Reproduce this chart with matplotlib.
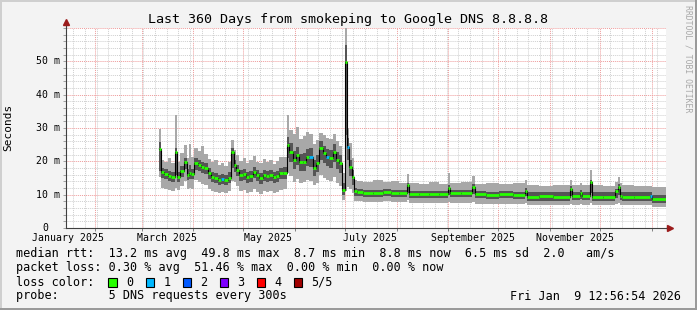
import matplotlib
matplotlib.use('Agg')
import matplotlib.pyplot as plt
import matplotlib.dates as mdates
from matplotlib.patches import Rectangle
from matplotlib.ticker import MultipleLocator
from datetime import datetime, timedelta

plt.rcParams['font.family'] = 'DejaVu Sans Mono'

# time window of the graph
start = datetime(2025, 1, 14, 12, 56, 54)
end = datetime(2026, 1, 9, 12, 56, 54)

# start of each step, in days after 'start'
day = [56.0, 57.0, 59.0, 61.0, 63.0, 65.5, 66.5, 68.5, 70.5, 72.5,
       73.5, 75.0, 77.0, 79.0, 81.0, 83.0, 85.0, 87.0, 89.0, 91.0,
       93.0, 95.0, 97.0, 99.0, 100.5, 102.0, 104.0, 106.0, 108.0, 110.0,
       112.0, 114.0, 116.0, 118.0, 120.0, 122.0, 124.0, 126.0, 128.0, 130.0,
       132.5, 134.0, 136.0, 138.0, 140.0, 142.0, 144.0, 146.0, 148.0, 150.0,
       152.0, 154.0, 156.0, 158.0, 160.0, 162.0, 164.0, 165.5, 167.4, 168.6,
       170.0, 171.5, 173.0,
       174.6, 178.0, 184.0, 190.0, 195.0, 200.0, 204.5, 206.0, 212.0, 218.0,
       224.0, 229.0, 230.5, 237.0, 243.5, 245.5, 252.0, 260.0, 268.0, 275.5,
       276.5, 284.0, 292.0, 302.4, 303.6, 308.4, 309.6, 314.4, 315.6, 322.0,
       329.4, 331.2, 332.4, 333.6, 341.0, 350.4, 351.6]

# median rtt (ms)
median = [23.7, 16.8, 16.2, 15.6, 15.3, 22.8, 15.3, 17.0, 19.8, 16.0,
          16.5, 16.2, 19.5, 18.9, 18.3, 18.0, 16.5, 15.3, 15.0, 14.4,
          14.7, 14.4, 15.0, 22.8, 18.9, 17.4, 15.9, 16.2, 15.3, 15.6,
          16.9, 16.0, 15.0, 15.9, 15.6, 15.9, 15.3, 15.6, 16.5, 16.5,
          24.9, 22.9, 20.4, 21.9, 19.8, 19.8, 21.4, 21.4, 18.0, 19.5,
          24.0, 22.5, 21.4, 21.0, 22.9, 20.4, 19.5, 11.4, 49.7, 24.4,
          18.3, 15.3, 11.0,
          10.9, 10.5, 10.6, 10.8, 10.5, 10.4, 12.9, 10.2, 10.2, 10.3,
          10.2, 12.0, 10.4, 10.5, 12.3, 10.1, 10.0, 10.1, 10.0, 11.0,
          9.4, 9.5, 9.4, 11.7, 9.6, 10.5, 9.6, 13.8, 9.3, 9.4,
          11.0, 12.3, 9.6, 9.3, 9.4, 9.6, 8.7]

# dark smoke band
inner_lo = [17.0, 15.0, 14.6, 14.1, 13.8, 16.0, 13.8, 15.3, 17.7, 14.4,
            14.7, 14.6, 17.4, 17.1, 16.5, 16.2, 14.7, 13.8, 13.5, 12.9,
            13.2, 12.9, 13.5, 18.0, 16.8, 15.6, 14.1, 14.4, 13.5, 13.8,
            15.0, 14.1, 13.2, 14.1, 13.8, 14.1, 13.5, 13.8, 14.7, 14.7,
            21.0, 19.8, 17.7, 18.9, 17.1, 17.1, 18.6, 18.3, 15.6, 16.8,
            20.4, 19.5, 18.6, 18.0, 19.8, 17.7, 16.5, 9.9, 28.0, 20.4,
            15.6, 12.9, 9.6,
            9.6, 9.3, 9.4, 9.5, 9.3, 9.2, 10.5, 9.0, 9.0, 9.1,
            9.0, 10.0, 9.2, 9.3, 10.2, 8.9, 8.8, 8.9, 8.8, 9.5,
            8.1, 8.2, 8.1, 9.6, 8.3, 8.8, 8.3, 10.5, 8.1, 8.1,
            9.0, 10.0, 8.3, 8.1, 8.1, 8.2, 7.5]
inner_hi = [25.9, 18.0, 17.6, 17.1, 16.8, 24.0, 16.8, 18.6, 21.0, 17.7,
            18.9, 17.7, 21.0, 20.4, 19.8, 19.5, 18.0, 16.8, 16.5, 15.9,
            16.2, 15.9, 16.8, 24.0, 20.4, 18.9, 17.4, 17.7, 16.8, 17.1,
            18.3, 17.4, 16.5, 17.4, 17.1, 17.4, 16.8, 17.1, 18.0, 18.3,
            27.3, 25.5, 23.1, 24.3, 22.2, 22.5, 23.7, 24.0, 20.4, 21.9,
            26.1, 24.6, 23.7, 23.4, 25.2, 22.8, 21.9, 13.5, 54.9, 27.0,
            20.4, 17.4, 12.0,
            11.7, 11.4, 11.5, 11.7, 11.4, 11.3, 13.5, 11.1, 11.1, 11.2,
            11.1, 12.9, 11.3, 11.4, 13.2, 11.0, 10.9, 11.0, 10.9, 12.0,
            10.8, 10.8, 10.8, 12.6, 10.8, 11.4, 10.8, 14.4, 10.8, 10.8,
            11.7, 13.2, 10.8, 10.7, 10.8, 10.8, 9.9]

# light smoke band
outer_lo = [15.3, 12.0, 11.7, 11.4, 11.1, 12.0, 11.4, 12.6, 14.1, 11.7,
            12.0, 11.7, 14.4, 13.8, 13.2, 12.9, 11.7, 11.1, 10.8, 10.5,
            10.8, 10.5, 11.1, 14.1, 13.8, 12.6, 11.1, 11.4, 10.5, 10.8,
            11.7, 10.8, 10.2, 11.1, 10.8, 11.1, 10.5, 10.8, 11.4, 11.7,
            16.5, 15.6, 13.8, 14.7, 13.5, 13.8, 14.4, 14.1, 12.9, 13.5,
            15.9, 15.0, 14.4, 14.1, 15.3, 13.5, 12.6, 8.4, 11.0, 12.3,
            11.7, 10.5, 8.1,
            8.1, 7.8, 7.9, 8.0, 7.8, 7.7, 8.4, 7.5, 7.4, 7.5,
            7.4, 7.8, 7.5, 7.6, 7.9, 7.2, 7.1, 7.2, 7.1, 7.4,
            6.9, 7.0, 6.9, 7.2, 7.0, 7.2, 7.0, 7.5, 6.9, 6.9,
            7.2, 7.5, 7.0, 6.9, 6.9, 6.9, 6.4]
outer_hi = [29.7, 20.5, 19.8, 21.0, 19.5, 33.9, 19.8, 22.5, 24.9, 21.0,
            25.2, 21.3, 24.0, 23.1, 24.6, 22.2, 20.7, 19.8, 20.4, 18.9,
            19.5, 18.6, 19.8, 26.4, 23.4, 21.9, 20.1, 21.0, 19.5, 20.4,
            21.6, 19.8, 19.5, 20.7, 19.8, 20.4, 19.2, 20.1, 21.3, 21.3,
            33.9, 29.4, 28.2, 30.4, 26.7, 27.6, 28.8, 28.2, 25.2, 26.4,
            28.5, 27.9, 27.0, 26.7, 28.2, 26.1, 24.6, 16.5, 59.9, 30.0,
            25.5, 21.0, 14.4,
            14.1, 13.8, 14.4, 13.8, 14.1, 13.5, 16.2, 13.5, 13.2, 13.8,
            13.2, 16.5, 13.5, 13.8, 15.6, 13.2, 13.5, 13.2, 13.4, 14.4,
            12.9, 12.6, 12.9, 14.4, 12.9, 13.5, 12.9, 17.4, 12.9, 12.6,
            13.8, 15.3, 13.5, 12.9, 12.6, 12.6, 12.3]

# number of lost pings for each step
loss = [0, 0, 0, 0, 0, 0, 0, 0, 0, 0,
        0, 0, 0, 0, 0, 0, 0, 0, 0, 0,
        1, 0, 0, 0, 0, 0, 0, 0, 0, 0,
        0, 0, 0, 0, 0, 0, 0, 0, 0, 0,
        0, 0, 0, 0, 0, 0, 0, 1, 0, 0,
        0, 0, 1, 0, 0, 0, 0, 0, 0, 1,
        0, 0, 0,
        0, 0, 0, 0, 0, 0, 0, 0, 0, 0,
        0, 0, 0, 0, 0, 0, 0, 0, 0, 0,
        0, 0, 0, 0, 0, 0, 0, 0, 0, 0,
        0, 0, 0, 0, 0, 1, 0]

loss_colors = ['#26ff00', '#00b8ff', '#0059ff', '#7e00ff', '#ff0000', '#a10000']
loss_labels = ['0', '1', '2', '3', '4', '5/5']

W, H = 697, 310
fig = plt.figure(figsize=(W / 100, H / 100), dpi=100, facecolor='#F3F3F3')
ax = fig.add_axes([66 / W, 82 / H, 600 / W, 200 / H])
ax.set_facecolor('white')

t = mdates.date2num([start + timedelta(days=d) for d in day] + [end])

def ext(v):
    return list(v) + [v[-1]]

ax.fill_between(t, ext(outer_lo), ext(outer_hi), step='post', color='#A8A8A8', lw=0)
ax.fill_between(t, ext(inner_lo), ext(inner_hi), step='post', color='#555555', lw=0)
ax.step(t, ext(median), where='post', color='black', lw=0.8)
for i in range(len(median)):
    ax.hlines(median[i], t[i], t[i + 1], color=loss_colors[loss[i]], lw=2.0)

ax.set_xlim(mdates.date2num(start), mdates.date2num(end))
ax.set_ylim(0, 60)

ax.xaxis.set_major_locator(mdates.MonthLocator())
ax.xaxis.set_minor_locator(mdates.WeekdayLocator(byweekday=mdates.SU))
ax.yaxis.set_major_locator(MultipleLocator(10))
ax.yaxis.set_minor_locator(MultipleLocator(2))
ax.set_axisbelow(True)
ax.grid(which='minor', color='#CFCFCF', ls=(0, (1, 1)), lw=0.7)
ax.grid(which='major', color='#EE9A9A', ls=(0, (1, 1)), lw=0.7)
ax.tick_params(axis='x', which='major', direction='out', length=2.5, width=0.7,
               color='#808080', labelbottom=False)
ax.tick_params(axis='x', which='minor', length=0)
ax.tick_params(axis='y', which='both', direction='out', length=2, width=0.7,
               color='#A0A0A0', labelleft=False)
for s in ['top', 'right']:
    ax.spines[s].set_visible(False)
for s in ['left', 'bottom']:
    ax.spines[s].set_color('#404040')
    ax.spines[s].set_linewidth(0.8)

# axis arrows
ax.plot([0, 0], [1, 1.025], color='#404040', lw=0.8, transform=ax.transAxes, clip_on=False)
ax.plot([0], [1.03], marker='^', ms=4, color='#9B1B1B', transform=ax.transAxes, clip_on=False)
ax.plot([1, 1.004], [0, 0], color='#404040', lw=0.8, transform=ax.transAxes, clip_on=False)
ax.plot([1.007], [0], marker='>', ms=4, color='#9B1B1B', transform=ax.transAxes, clip_on=False)

# axis labels
for v in range(10, 60, 10):
    ax.text(-0.01, v, '%d m' % v, transform=ax.get_yaxis_transform(),
            ha='right', va='center', fontsize=7.1)
ax.text(-0.03, 0, '0', transform=ax.get_yaxis_transform(), ha='right', va='center', fontsize=7.1)

month_labels = ['January 2025', 'March 2025', 'May 2025', 'July 2025',
                'September 2025', 'November 2025']
label_dates = [datetime(2025, 1, 16), datetime(2025, 3, 16), datetime(2025, 5, 16),
               datetime(2025, 7, 16), datetime(2025, 9, 16), datetime(2025, 11, 16)]
for lab, d in zip(month_labels, label_dates):
    ax.text(mdates.date2num(d), -0.05, lab, transform=ax.get_xaxis_transform(),
            ha='center', va='center', fontsize=7.1)

fig.text(8 / W, 1 - 127 / H, 'Seconds', rotation=90, ha='center', va='center', fontsize=8)
fig.text(347.5 / W, 1 - 19 / H, 'Last 360 Days from smokeping to Google DNS 8.8.8.8',
         ha='center', va='center', fontsize=9.6)
fig.text(688 / W, 1 - 5 / H, 'RRDTOOL / TOBI OETIKER', rotation=-90, ha='center', va='top',
         fontsize=5.9, color='#A8A8A8')

# legend lines
def txt(x, y, s, ha='left'):
    fig.text(x / W, 1 - y / H, s, ha=ha, va='center', fontsize=8.5)

txt(16, 254, 'median rtt:  13.2 ms avg  49.8 ms max  8.7 ms min  8.8 ms now  6.5 ms sd  2.0   am/s')
txt(16, 268, 'packet loss: 0.30 % avg  51.46 % max  0.00 % min  0.00 % now')

txt(16, 282, 'loss color:')
box_x = [108, 145.5, 182.5, 219.5, 256.5, 293.5]
for i in range(len(loss_labels)):
    fig.patches.append(Rectangle((box_x[i] / W, 1 - 286.5 / H), 8.5 / W, 8.5 / H,
                                 transform=fig.transFigure, facecolor=loss_colors[i],
                                 edgecolor='black', lw=0.8))
    txt(box_x[i] + 18, 282, loss_labels[i])

txt(16, 296, 'probe:       5 DNS requests every 300s')
txt(681, 296, 'Fri Jan  9 12:56:54 2026', ha='right')

# frame around the image
fig.patches.append(Rectangle((0, 1 - 2 / H), 1, 2 / H, transform=fig.transFigure, color='#CFCFCF', lw=0))
fig.patches.append(Rectangle((0, 0), 2 / W, 1, transform=fig.transFigure, color='#CFCFCF', lw=0))
fig.patches.append(Rectangle((0, 0), 1, 2 / H, transform=fig.transFigure, color='#9A9A9A', lw=0))
fig.patches.append(Rectangle((1 - 2 / W, 0), 2 / W, 1, transform=fig.transFigure, color='#9A9A9A', lw=0))

fig.savefig('out.png', dpi=100, facecolor=fig.get_facecolor())
